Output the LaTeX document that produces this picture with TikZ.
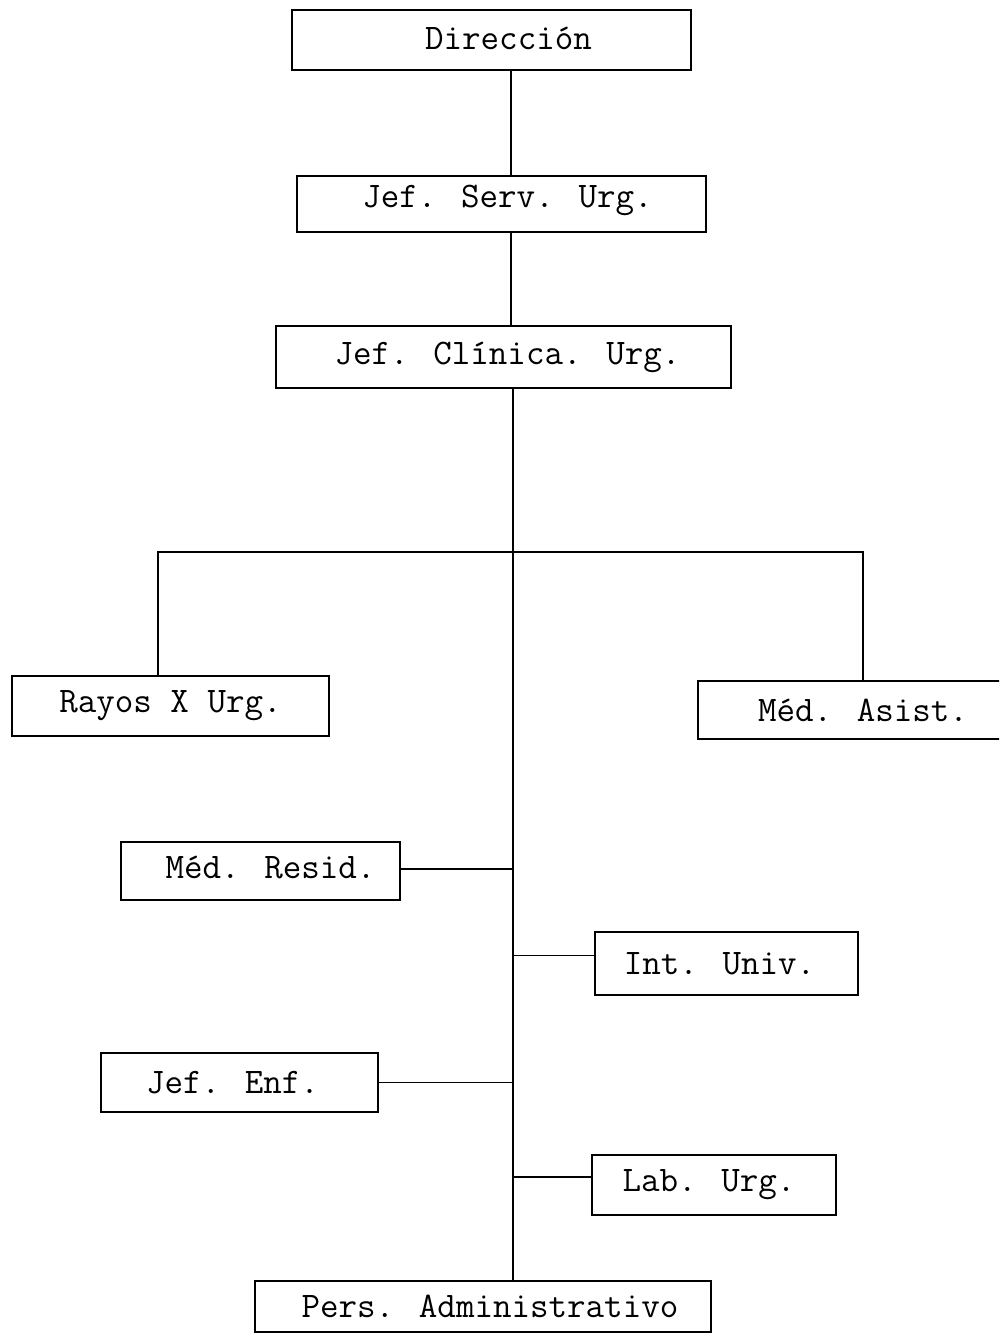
\documentclass[tikz,border=0pt]{standalone}
\usepackage{fontspec}
\begin{document}
\begin{tikzpicture}[x=0.254mm,y=-0.254mm,
  font=\ttfamily\fontsize{26}{30}\selectfont,
  bx/.style 2 args={draw, rectangle, inner sep=0pt, line width=1.3pt,
    minimum width=#1*0.254mm, minimum height=#2*0.254mm},
  conn/.style={line width=1.3pt}]
\useasboundingbox (0,0) rectangle (999,1338);
\clip (0,0) rectangle (999,1338);
% boxes
\node[bx={399}{60}, label={[xshift=17*0.254mm, yshift=2*0.254mm]center:Dirección}] (dir) at (491.5,40) {};
\node[bx={409}{56}, label={[xshift=6*0.254mm, yshift=4*0.254mm]center:Jef. Serv. Urg.}] (jserv) at (501.5,204) {};
\node[bx={455}{62}, label={[xshift=4*0.254mm]center:Jef. Clínica. Urg.}] (jclin) at (503.5,357) {};
\node[bx={317}{60}, label={center:Rayos X Urg.}] (rayos) at (170.5,706) {};
\node[bx={312}{58}, label={[xshift=9*0.254mm]center:Méd. Asist.}] (asist) at (854,710) {};
\node[bx={279}{58}, label={[xshift=10*0.254mm, yshift=4*0.254mm]center:Méd. Resid.}] (resid) at (260.5,871) {};
\node[bx={263}{63}, label={[xshift=-7*0.254mm]center:Int. Univ.}] (univ) at (726.5,963.5) {};
\node[bx={277}{59}, label={[xshift=-7*0.254mm]center:Jef. Enf.}] (enf) at (239.5,1082.5) {};
\node[bx={244}{60}, label={[xshift=-5*0.254mm]center:Lab. Urg.}] (lab) at (714,1185) {};
\node[bx={456}{51}, label={[xshift=7*0.254mm]center:Pers. Administrativo}] (pers) at (483,1306.5) {};
% trunk coordinates
\coordinate (top) at (511,0);
\coordinate (trunk) at (513,0);
\coordinate (branch) at (513,552);
% connectors
\draw[conn] (dir.south -| top) -- (jserv.north -| top);
\draw[conn] (jserv.south -| top) -- (jclin.north -| top);
\draw[conn] (jclin.south -| trunk) -- (pers.north -| trunk);
\draw[conn] (rayos.north -| 158,0) |- (branch) -| (asist.north -| 863,0);
\draw[conn] ([yshift=2*0.254mm]resid.east) -- ([yshift=2*0.254mm]resid.east -| trunk);
\draw[conn] ([yshift=8*0.254mm]univ.west) -- ([yshift=8*0.254mm]univ.west -| trunk);
\draw[conn] (enf.east) -- (enf.east -| trunk);
\draw[conn] ([yshift=8*0.254mm]lab.west) -- ([yshift=8*0.254mm]lab.west -| trunk);
\end{tikzpicture}
\end{document}
